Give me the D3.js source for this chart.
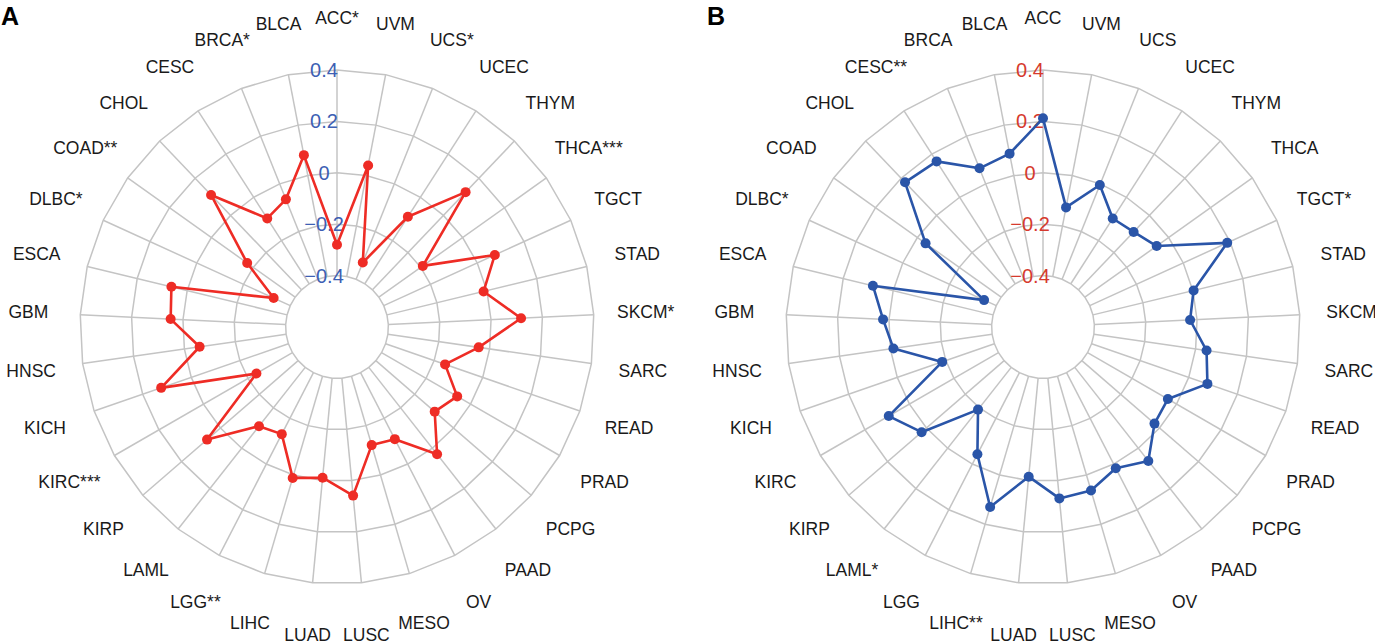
<!DOCTYPE html>
<html>
<head>
<meta charset="utf-8">
<script src="https://cdn.jsdelivr.net/npm/d3@7"></script>
<style>
  body { margin: 0; background: #fff; }
  text { font-family: "Liberation Sans", Arial, sans-serif; }
</style>
</head>
<body>
<svg id="chart" width="1375" height="641"></svg>
<script>
// cancer types, clockwise from the top
const cancers = ['ACC', 'UVM', 'UCS', 'UCEC', 'THYM', 'THCA', 'TGCT', 'STAD', 'SKCM', 'SARC',
  'READ', 'PRAD', 'PCPG', 'PAAD', 'OV', 'MESO', 'LUSC', 'LUAD', 'LIHC', 'LGG', 'LAML',
  'KIRP', 'KIRC', 'KICH', 'HNSC', 'GBM', 'ESCA', 'DLBC', 'COAD', 'CHOL', 'CESC', 'BRCA', 'BLCA']

// significance stars per cancer type
const starsA = ['*', '', '*', '', '', '***', '', '', '*', '', '', '', '', '', '', '', '', '', '', '**', '',
  '', '***', '', '', '', '', '*', '**', '', '', '*', '']
const starsB = ['', '', '', '', '', '', '*', '', '', '', '', '', '', '', '', '', '', '', '**', '', '*',
  '', '', '', '', '', '', '*', '', '', '**', '', '']

// correlation values
const valuesA = [-0.28, 0.04, -0.33, -0.09, 0.125, -0.19, 0.075, -0.013, 0.117, -0.043,
  -0.155, -0.06, -0.097, 0.03, -0.109, -0.121, 0.059, -0.011, 0.012, -0.131, -0.109,
  0.069, -0.238, 0.124, -0.06, 0.048, 0.063, -0.329, -0.171, 0.11, -0.098, -0.065, 0.081]
const valuesB = [0.212, -0.126, -0.005, -0.098, -0.089, -0.057, 0.188, 0.003, -0.027, 0.043,
  0.077, -0.039, -0.026, 0.063, 0.018, 0.063, 0.07, -0.015, 0.13, -0.043, -0.191,
  0.025, 0.093, -0.185, -0.012, 0.023, 0.081, -0.348, -0.039, 0.178, 0.166, 0.065, 0.087]

const ticks = [-0.4, -0.2, 0, 0.2, 0.4]

const svg = d3.select('#chart')
const n = cancers.length
const r = d3.scaleLinear().domain([-0.6, 0.4]).range([0, 257])
const angle = d3.scaleLinear().domain([0, n]).range([0, 2 * Math.PI])
const fmt = d3.format('.1~f')

function drawRadar (cx, cy, letter, values, stars, lineColor, tickColor) {
  const g = svg.append('g').attr('transform', `translate(${cx},${cy})`)
  const idx = d3.range(n)

  // grid rings (33-gons)
  const ring = d3.lineRadial()
    .angle(i => angle(i))
    .curve(d3.curveLinearClosed)
  g.selectAll('path.ring')
    .data(ticks)
    .enter()
    .append('path')
    .attr('class', 'ring')
    .attr('d', t => ring.radius(r(t))(idx))
    .attr('fill', 'none')
    .attr('stroke', '#c4c4c4')
    .attr('stroke-width', 1.5)

  // spokes
  g.selectAll('line.spoke')
    .data(idx)
    .enter()
    .append('line')
    .attr('class', 'spoke')
    .attr('x1', i => r(-0.4) * Math.sin(angle(i)))
    .attr('y1', i => -r(-0.4) * Math.cos(angle(i)))
    .attr('x2', i => r(0.4) * Math.sin(angle(i)))
    .attr('y2', i => -r(0.4) * Math.cos(angle(i)))
    .attr('stroke', '#c4c4c4')
    .attr('stroke-width', 1.5)

  // tick labels
  g.selectAll('text.tick')
    .data(ticks)
    .enter()
    .append('text')
    .attr('class', 'tick')
    .attr('x', -13)
    .attr('y', t => -r(t))
    .attr('text-anchor', 'middle')
    .attr('dominant-baseline', 'central')
    .attr('font-size', 20)
    .attr('fill', tickColor)
    .text(t => fmt(t))

  // category labels
  g.selectAll('text.cat')
    .data(idx)
    .enter()
    .append('text')
    .attr('class', 'cat')
    .attr('x', i => 309 * Math.sin(angle(i)))
    .attr('y', i => -309 * Math.cos(angle(i)))
    .attr('text-anchor', 'middle')
    .attr('dominant-baseline', 'central')
    .attr('font-size', 17.5)
    .attr('fill', '#1a1a1a')
    .text(i => cancers[i] + stars[i])

  // data line
  const line = d3.lineRadial()
    .angle(i => angle(i))
    .radius(i => r(values[i]))
    .curve(d3.curveLinearClosed)
  g.append('path')
    .attr('d', line(idx))
    .attr('fill', 'none')
    .attr('stroke', lineColor)
    .attr('stroke-width', 2.6)
    .attr('stroke-linejoin', 'round')

  g.selectAll('circle')
    .data(idx)
    .enter()
    .append('circle')
    .attr('cx', i => r(values[i]) * Math.sin(angle(i)))
    .attr('cy', i => -r(values[i]) * Math.cos(angle(i)))
    .attr('r', 5)
    .attr('fill', lineColor)

  // panel letter
  svg.append('text')
    .attr('x', cx - 336)
    .attr('y', 25)
    .attr('font-size', 25)
    .attr('font-weight', 'bold')
    .attr('fill', '#000')
    .text(letter)
}

drawRadar(337, 327, 'A', valuesA, starsA, '#ee2c25', '#3d5fb4')
drawRadar(1043, 327, 'B', valuesB, starsB, '#2a55a8', '#d63a2e')
</script>
</body>
</html>
